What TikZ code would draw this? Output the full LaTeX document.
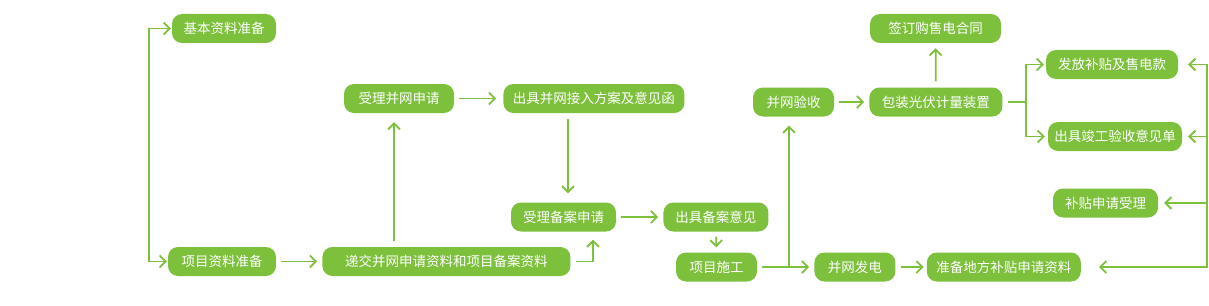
\documentclass[tikz,border=0pt]{standalone}
\usepackage{fontspec}
\newfontfamily\cjk{Noto Sans CJK SC}
\usetikzlibrary{arrows.meta,positioning,calc}
\definecolor{bgreen}{RGB}{125,192,60}

\begin{document}
\begin{tikzpicture}[x=1pt,y=-1pt,
    bx/.style={fill=bgreen,text=white,rounded corners=10pt,minimum height=29pt,inner sep=0pt,font=\cjk\fontsize{13.5pt}{16pt}\selectfont},
    ln/.style={draw=bgreen,line width=1.8pt},
    tip/.tip={Straight Barb[length=6pt,width=12pt]},
    ar/.style={ln,-tip,shorten <=5pt,shorten >=5pt},
    dar/.style={ln,tip-tip}
]
\useasboundingbox (0,0) rectangle (1209,305);
% nodes
\node[bx,minimum width=104pt] (jbzl) at (224,28.5) {基本资料准备};
\node[bx,minimum width=108pt] (xmzl) at (222,261.5) {项目资料准备};
\node[bx,minimum width=248pt,right=46pt of xmzl] (djsq) {递交并网申请资料和项目备案资料};
\node[bx,minimum width=110pt] (slbw) at (399,98.5) {受理并网申请};
\node[bx,minimum width=181pt,right=49pt of slbw] (cjbw) {出具并网接入方案及意见函};
\node[bx,minimum width=105pt] (slba) at (563.5,217) {受理备案申请};
\node[bx,minimum width=105pt,right=47pt of slba] (cjba) {出具备案意见};
\node[bx,minimum width=81pt] (xmsg) at (716.5,267) {项目施工};
\node[bx,minimum width=81pt,right=57pt of xmsg] (bwfd) {并网发电};
\node[bx,minimum width=154pt,right=31pt of bwfd] (zbdf) {准备地方补贴申请资料};
\node[bx,minimum width=81pt] (bwys) at (793.5,102) {并网验收};
\node[bx,minimum width=133pt,right=35pt of bwys] (bzgf) {包装光伏计量装置};
\node[bx,minimum width=131pt] (qdht) at (935.5,28.5) {签订购售电合同};
\node[bx,minimum width=132pt] (ffbt) at (1112,64.5) {发放补贴及售电款};
\node[bx,minimum width=134pt] (cjjg) at (1115,136.5) {出具竣工验收意见单};
\node[bx,minimum width=105pt] (btsl) at (1105.5,203) {补贴申请受理};

% helper points
\coordinate (lx) at (149,0);
\coordinate (fx) at (1026,0);
\coordinate (rx) at (1207,0);
\coordinate (ua) at ([xshift=-5pt]slbw.south);
\coordinate (ub) at ([xshift=4.5pt]slba.north);
\coordinate (uc) at ([xshift=29.5pt]slba.south);
\coordinate (bk) at ([xshift=-4.5pt]bwys.south);

% connectors
\draw[dar,shorten <=1pt,shorten >=1pt] (jbzl.west) -- (jbzl.west -| lx) -- (xmzl.west -| lx) -- (xmzl.west);
\draw[ar] (xmzl) -- (djsq);
\draw[ar,shorten <=6pt,shorten >=9pt] (ua |- djsq.north) -- (ua);
\draw[ar,shorten >=7pt] (slbw) -- (cjbw);
\draw[ar,shorten <=6pt,shorten >=9pt] (ub |- cjbw.south) -- (ub);
\draw[ar,shorten >=8pt] (djsq.east) -| (uc);
\draw[ar] (slba) -- (cjba);
\draw[ar] (cjba) -- (xmsg);
\draw[ar] (xmsg) -- (bwfd);
\draw[ar,shorten <=0pt,shorten >=9pt] (xmsg.east -| bk) -- (bk);
\draw[ar,shorten >=3pt] (bwfd) -- (zbdf);
\draw[ar] (bwys) -- (bzgf);
\draw[ar,shorten <=6pt] (bzgf) -- (qdht);
\draw[ln,shorten <=5pt] (bzgf.east) -- (bzgf.east -| fx);
\draw[dar,shorten <=2pt,shorten >=3pt] (ffbt.west) -- (ffbt.west -| fx) -- (cjjg.west -| fx) -- (cjjg.west);
\draw[dar,shorten <=18pt,shorten >=10pt] (zbdf.east) -- (zbdf.east -| rx) -- (ffbt.east -| rx) -- (ffbt.east);
\draw[ar,shorten <=0pt,shorten >=6pt] (cjjg.east -| rx) -- (cjjg.east);
\draw[ar,shorten <=0pt,shorten >=6pt] (btsl.east -| rx) -- (btsl.east);
\end{tikzpicture}
\end{document}
